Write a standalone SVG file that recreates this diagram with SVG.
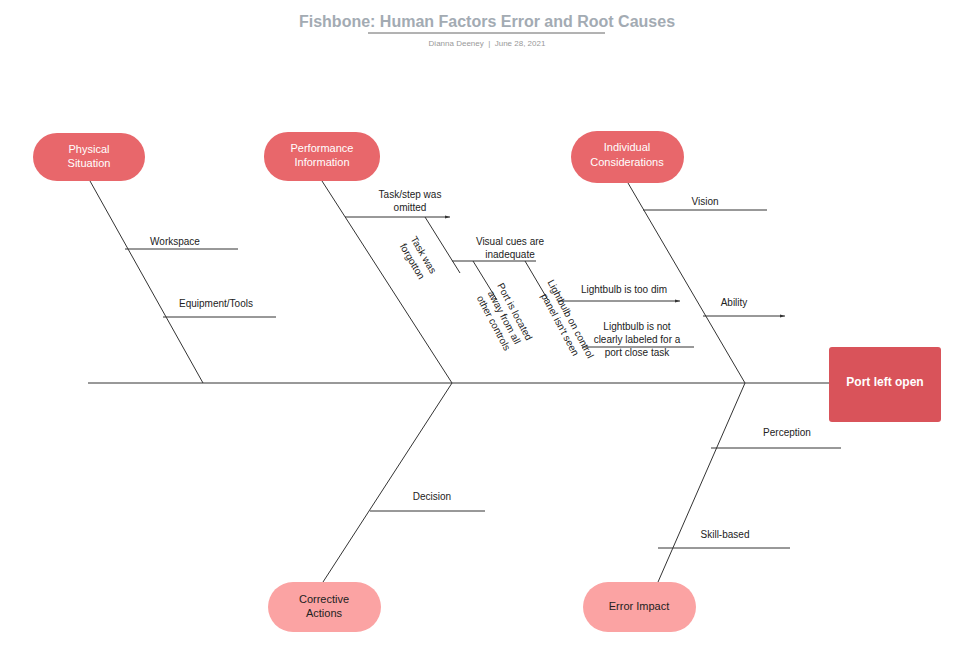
<svg xmlns="http://www.w3.org/2000/svg" width="965" height="659" viewBox="0 0 965 659">
<defs><marker id="a" markerWidth="6" markerHeight="6" refX="5" refY="3" orient="auto"><path d="M0,1.5 L5,3 L0,4.5z" fill="#333"/></marker></defs>
<style>
text{font-family:"Liberation Sans",Arial,sans-serif;font-size:10px;fill:#222;text-anchor:middle}
.n text{fill:#fff;font-size:11px}
.l line{stroke:#333;stroke-width:1}
</style>
<rect width="965" height="659" fill="#fff"/>
<text x="487" y="27" style="font-size:16px;font-weight:bold;fill:#a3abb3">Fishbone: Human Factors Error and Root Causes</text>
<line x1="368" y1="33" x2="605" y2="33" stroke="#666" stroke-width="1"/>
<text x="487" y="46" style="font-size:8px;fill:#999">Dianna Deeney &#160;| &#160;June 28, 2021</text>
<g class="l" id="connectors">
<line x1="88" y1="383" x2="830" y2="383"/>
<line x1="90" y1="181" x2="203" y2="383"/>
<line x1="322" y1="181" x2="452" y2="383"/>
<line x1="628" y1="183" x2="745" y2="383"/>
<line x1="452" y1="383" x2="323" y2="582"/>
<line x1="745" y1="383" x2="658" y2="582"/>
<line x1="125" y1="249" x2="238" y2="249"/>
<line x1="163" y1="317" x2="276" y2="317"/>
<line x1="345" y1="217" x2="450" y2="217" marker-end="url(#a)"/>
<line x1="425" y1="217" x2="460" y2="273"/>
<line x1="452" y1="261" x2="536" y2="261"/>
<line x1="473" y1="261" x2="497" y2="300"/>
<line x1="525" y1="261" x2="548" y2="300"/>
<line x1="558" y1="301" x2="680" y2="301" marker-end="url(#a)"/>
<line x1="582" y1="347" x2="694" y2="347"/>
<line x1="643" y1="210" x2="767" y2="210"/>
<line x1="703" y1="316" x2="785" y2="316" marker-end="url(#a)"/>
<line x1="711" y1="448" x2="841" y2="448"/>
<line x1="658" y1="548" x2="790" y2="548"/>
<line x1="370" y1="511" x2="485" y2="511"/>
</g>
<text x="175" y="245">Workspace</text>
<text x="216" y="307">Equipment/Tools</text>
<text x="410" y="198">Task/step was</text><text x="410" y="211">omitted</text>
<text x="510" y="245">Visual cues are</text><text x="510" y="258">inadequate</text>
<text x="624" y="293">Lightbulb is too dim</text>
<text x="637" y="330">Lightbulb is not</text><text x="637" y="343">clearly labeled for a</text><text x="637" y="356">port close task</text>
<text x="705" y="205">Vision</text>
<text x="734" y="306">Ability</text>
<text x="787" y="436">Perception</text>
<text x="725" y="538">Skill-based</text>
<text x="432" y="500">Decision</text>
<g transform="translate(418,258) rotate(60)"><text y="-3">Task was</text><text y="10">forgotton</text></g>
<g transform="translate(503,318) rotate(62)"><text y="-10">Port is located</text><text y="2">away from all</text><text y="14">other controls</text></g>
<g transform="translate(565,322) rotate(62)"><text y="-3">Lightbulb on control</text><text y="9">panel isn't seen</text></g>
<g class="n">
<g id="n-physical"><rect x="33" y="133" width="112" height="48" rx="24" fill="#e8676b"/><text x="89" y="153">Physical</text><text x="89" y="167">Situation</text></g>
<g id="n-performance"><rect x="264" y="132" width="116" height="49" rx="24" fill="#e8676b"/><text x="322" y="152">Performance</text><text x="322" y="166">Information</text></g>
<g id="n-individual"><rect x="571" y="131" width="113" height="52" rx="26" fill="#e8676b"/><text x="627" y="151">Individual</text><text x="627" y="166">Considerations</text></g>
<g id="n-corrective"><rect x="268" y="582" width="113" height="50" rx="25" fill="#fba3a3"/><text x="324" y="603" style="fill:#222">Corrective</text><text x="324" y="617" style="fill:#222">Actions</text></g>
<g id="n-error"><rect x="583" y="582" width="113" height="50" rx="25" fill="#fba3a3"/><text x="639" y="610" style="fill:#222">Error Impact</text></g>
<g id="n-port"><rect x="829" y="347" width="112" height="75" rx="3" fill="#d9535a"/><text x="885" y="386" style="font-size:12px;font-weight:bold">Port left open</text></g>
</g>
</svg>
